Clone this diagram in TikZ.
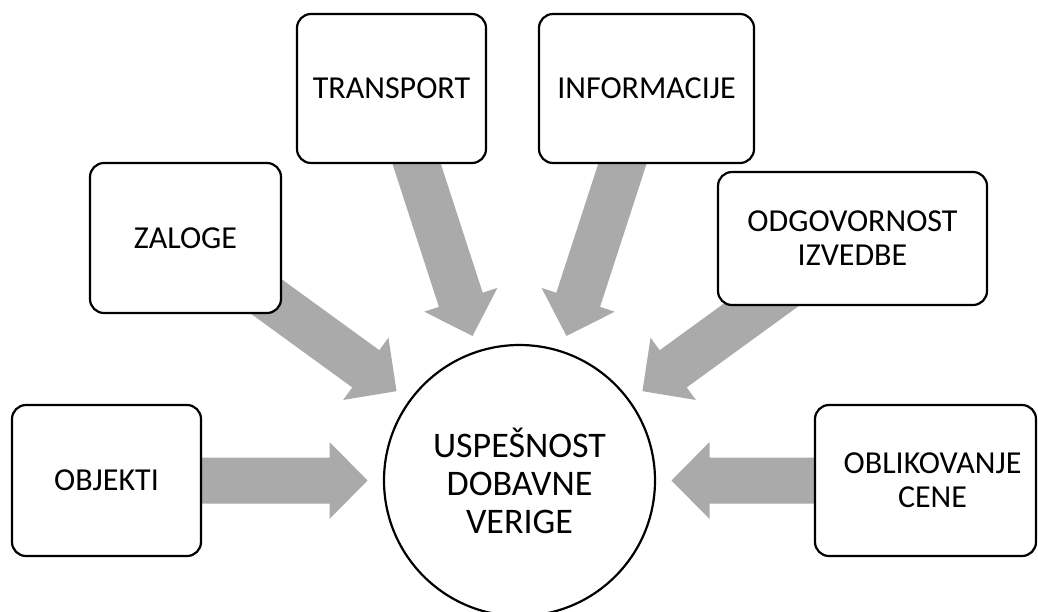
\documentclass[tikz,border=0pt]{standalone}
\usepackage{fontspec}
\setmainfont{Carlito}
\usetikzlibrary{calc}
\definecolor{flowgray}{RGB}{170,170,170}
\tikzset{
  factor/.style={draw=black, line width=2.2pt, fill=white, rounded corners=14pt,
    inner sep=0pt, align=center, font=\fontsize{32}{34}\selectfont},
  hub/.style={circle, draw=black, line width=2.2pt, fill=white, minimum size=271pt,
    inner sep=0pt, align=center, font=\fontsize{36}{38}\selectfont},
  flow/.style={fill=flowgray}
}
% block arrow pointing from the radial point #2 towards the hub #1
\newcommand{\flowarrow}[2]{%
  \coordinate (fa-tail) at ($(#1)!360pt!(#2)$);
  \coordinate (fa-base) at ($(#1)!190pt!(#2)$);
  \coordinate (fa-tip)  at ($(#1)!152pt!(#2)$);
  \fill[flow] ($(fa-tail)!23pt!90:(fa-tip)$) -- ($(fa-base)!23pt!90:(fa-tip)$)
    -- ($(fa-base)!38.5pt!90:(fa-tip)$) -- (fa-tip)
    -- ($(fa-base)!38.5pt!-90:(fa-tip)$) -- ($(fa-base)!23pt!-90:(fa-tip)$)
    -- ($(fa-tail)!23pt!-90:(fa-tip)$) -- cycle;
}
\begin{document}
\begin{tikzpicture}[x=1pt, y=-1pt]
  \clip (0,0) rectangle (1038,611);
  \fill[white] (0,0) rectangle (1038,611);

  % central goal
  \node[hub] (hub) at (519.5,480.5) {USPEŠNOST\\DOBAVNE\\VERIGE};

  % radial positions of the factors
  \coordinate (objekti-r)     at (106.5,480.5);
  \coordinate (zaloge-r)      at (185.4,237.7);
  \coordinate (transport-r)   at (391.9,87.7);
  \coordinate (informacije-r) at (647.1,87.7);
  \coordinate (odgovornost-r) at (853.6,237.7);
  \coordinate (oblikovanje-r) at (932.5,480.5);

  % arrows towards the goal
  \flowarrow{hub.center}{objekti-r}
  \flowarrow{hub.center}{zaloge-r}
  \flowarrow{hub.center}{transport-r}
  \flowarrow{hub.center}{informacije-r}
  \flowarrow{hub.center}{odgovornost-r}
  \flowarrow{hub.center}{oblikovanje-r}

  % factors
  \node[factor, minimum width=189pt, minimum height=151pt] (objekti) at (106.5,480.5) {OBJEKTI};
  \node[factor, minimum width=191pt, minimum height=150pt] (zaloge) at (185.5,238) {ZALOGE};
  \node[factor, minimum width=189pt, minimum height=149pt] (transport) at (391.5,88.5) {TRANSPORT};
  \node[factor, minimum width=215pt, minimum height=149pt] (informacije) at (646.5,88.5) {INFORMACIJE};
  \node[factor, minimum width=269pt, minimum height=133pt] (odgovornost) at (852.5,238.5) {ODGOVORNOST\\IZVEDBE};
  \node[factor, minimum width=221pt, minimum height=151pt] (oblikovanje) at (925.5,480.5) {\hspace*{14pt}OBLIKOVANJE\\\hspace*{14pt}CENE};
\end{tikzpicture}
\end{document}
